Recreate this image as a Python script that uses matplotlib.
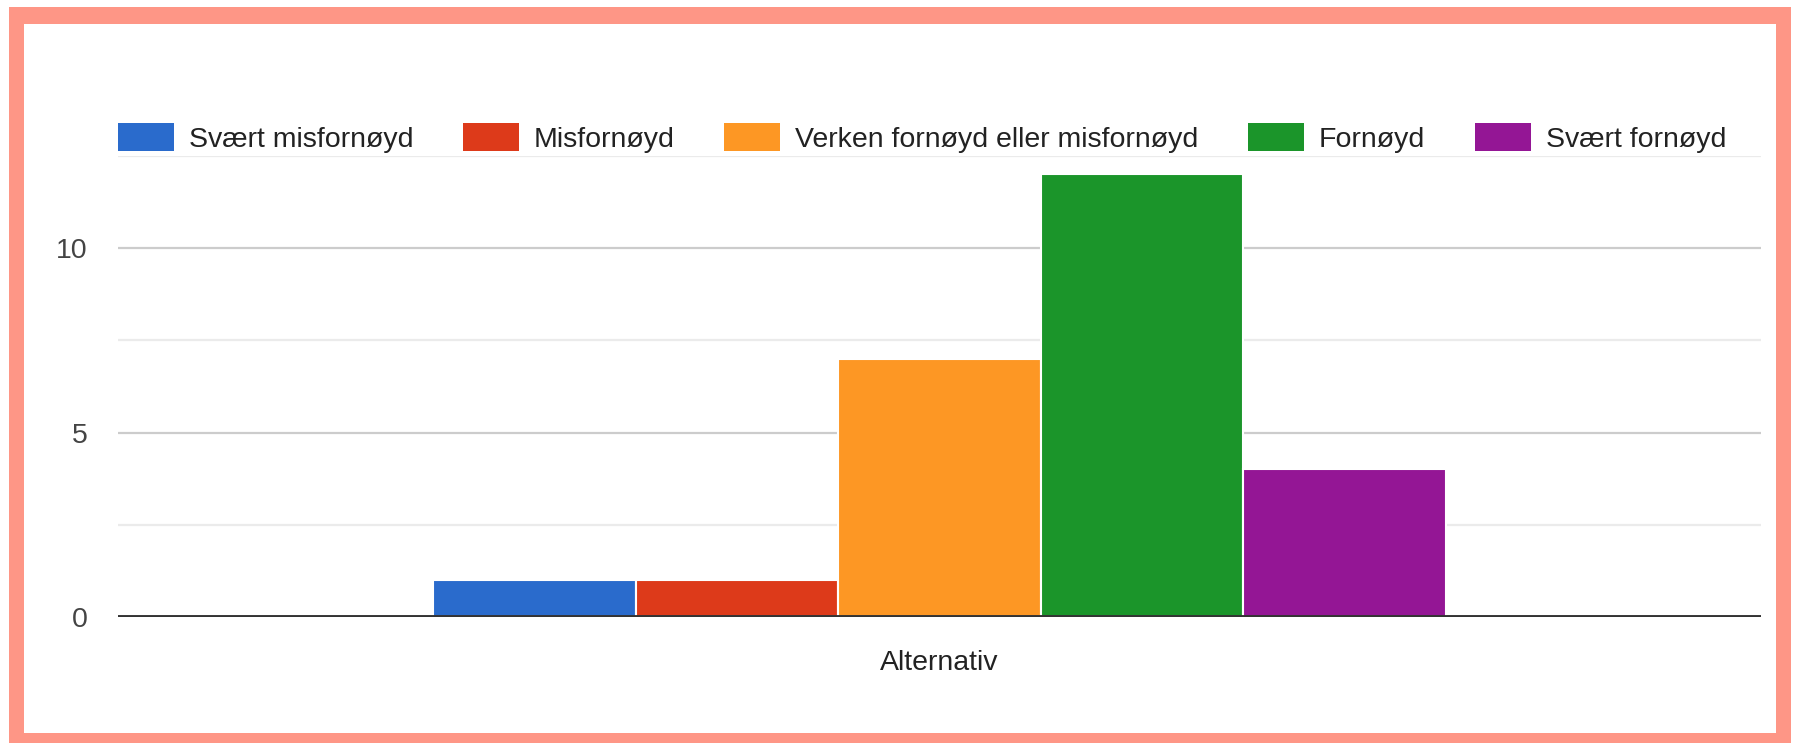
import numpy as np
import matplotlib
matplotlib.use('Agg')
import matplotlib.pyplot as plt
from matplotlib.patches import Rectangle, Patch

plt.rcParams['font.family'] = ['Liberation Sans', 'DejaVu Sans']

# data
category = ['Alternativ']
labels = ['Svært misfornøyd', 'Misfornøyd', 'Verken fornøyd eller misfornøyd', 'Fornøyd', 'Svært fornøyd']
values = [1, 1, 7, 12, 4]
colors = ['#2a6bcc', '#dd3a1a', '#fd9724', '#1b952a', '#941695']
yticks = [0, 5, 10]

W, H = 1799, 749
fig = plt.figure(figsize=(W / 100, H / 100), dpi=100)

# salmon frame around the chart
fig.patches.append(Rectangle((9 / W, 1 - 743 / H), 1782 / W, 736 / H,
                             transform=fig.transFigure, facecolor='#fe9686', edgecolor='none', zorder=-2))
fig.patches.append(Rectangle((24 / W, 1 - 733 / H), 1752 / W, 709 / H,
                             transform=fig.transFigure, facecolor='white', edgecolor='none', zorder=-1))

ax = fig.add_axes([118 / W, 1 - 617 / H, (1761 - 118) / W, (617 - 156) / H])
ax.set_facecolor('none')

n = len(values)
w = 0.1232
x0 = np.arange(len(category))
for i, (v, c, lab) in enumerate(zip(values, colors, labels)):
    ax.bar(x0 + (i - (n - 1) / 2) * w, [v], width=w, color=c, edgecolor='white',
           linewidth=1.5, label=lab, zorder=3)

ax.set_xlim(-0.5, 0.5)
ax.set_ylim(0, 12.5)
ax.set_yticks(yticks)
ax.set_yticks([2.5, 7.5, 12.5], minor=True)
ax.grid(axis='y', which='major', color='#cccccc', linewidth=1.6, zorder=0)
ax.grid(axis='y', which='minor', color='#ebebeb', linewidth=1.6, zorder=0)
ax.axhline(0, color='#333333', linewidth=2.8, zorder=4)
for s in ax.spines.values():
    s.set_visible(False)

ax.set_xticks(x0)
ax.set_xticklabels(category)
ax.tick_params(axis='both', which='both', length=0, labelsize=20.5, labelcolor='#222222')
ax.tick_params(axis='y', pad=22, labelcolor='#444444')
ax.tick_params(axis='x', pad=24)

handles = [Patch(facecolor=c, edgecolor='none') for c in colors]
fig.legend(handles, labels, loc='center left', bbox_to_anchor=(118 / W, 1 - 138 / H),
           ncol=5, frameon=False, fontsize=20.5, handlelength=1.97, handleheight=1.15,
           handletextpad=0.53, columnspacing=1.73, borderpad=0, borderaxespad=0,
           labelcolor='#222222')

fig.savefig('out.png', dpi=100, facecolor='white')
